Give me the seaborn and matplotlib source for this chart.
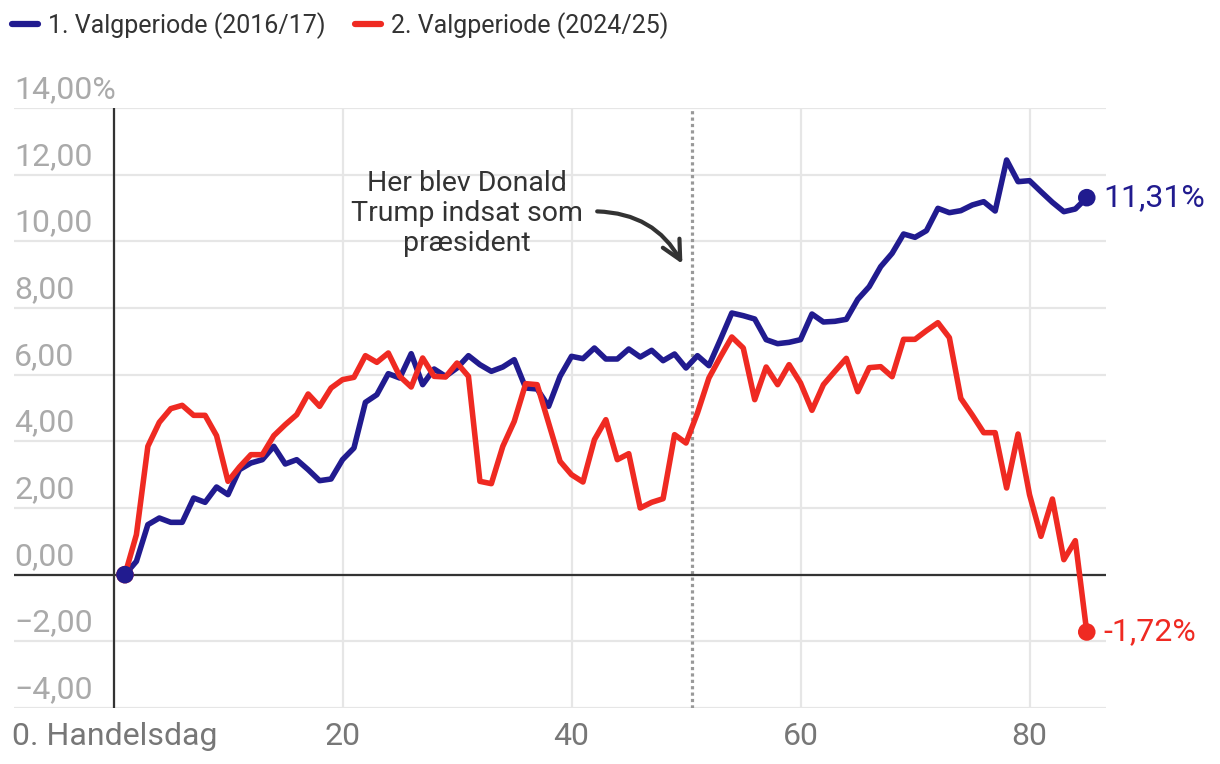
import matplotlib
matplotlib.use("Agg")
import matplotlib.pyplot as plt
import matplotlib.transforms as mtransforms
import pandas as pd
import seaborn as sns

# Handelsdag 1..85 for begge valgperioder (afkast i %)
dage = list(range(1, 86))
periode1 = [
    0, 0.4, 1.5, 1.7, 1.57, 1.57, 2.3, 2.17, 2.63, 2.4,
    3.15, 3.35, 3.45, 3.85, 3.32, 3.45, 3.15, 2.82, 2.87, 3.45,
    3.8, 5.17, 5.4, 6.03, 5.9, 6.63, 5.7, 6.17, 5.95, 6.2,
    6.57, 6.3, 6.1, 6.23, 6.45, 5.6, 5.57, 5.05, 5.95, 6.55,
    6.48, 6.8, 6.47, 6.47, 6.77, 6.53, 6.73, 6.42, 6.62, 6.2,
    6.57, 6.27, 7.05, 7.85, 7.77, 7.67, 7.05, 6.93, 6.97, 7.05,
    7.82, 7.58, 7.6, 7.66, 8.26, 8.64, 9.24, 9.64, 10.22, 10.12,
    10.32, 10.99, 10.86, 10.92, 11.09, 11.19, 10.91, 12.44, 11.79, 11.82,
    11.49, 11.17, 10.89, 10.97, 11.31,
]
periode2 = [
    0, 1.2, 3.85, 4.57, 4.98, 5.08, 4.78, 4.78, 4.17, 2.8,
    3.23, 3.6, 3.6, 4.17, 4.5, 4.8, 5.42, 5.05, 5.6, 5.85,
    5.92, 6.57, 6.37, 6.65, 5.95, 5.63, 6.5, 5.95, 5.93, 6.35,
    5.95, 2.8, 2.73, 3.85, 4.6, 5.73, 5.7, 4.55, 3.4, 3.0,
    2.78, 4.05, 4.65, 3.45, 3.63, 2.0, 2.17, 2.28, 4.2, 3.95,
    4.85, 5.9, 6.53, 7.13, 6.8, 5.25, 6.23, 5.7, 6.3, 5.75,
    4.93, 5.7, 6.1, 6.49, 5.49, 6.21, 6.24, 5.94, 7.06, 7.06,
    7.32, 7.56, 7.11, 5.29, 4.79, 4.26, 4.26, 2.6, 4.22, 2.4,
    1.15, 2.27, 0.45, 1.02, -1.72,
]
navne = ["1. Valgperiode (2016/17)", "2. Valgperiode (2024/25)"]
farver = ["#211b8f", "#ef2a22"]
y_ticks = [-4, -2, 0, 2, 4, 6, 8, 10, 12, 14]
y_labels = ["−4,00", "−2,00", "0,00", "2,00", "4,00", "6,00", "8,00", "10,00", "12,00", "14,00%"]
x_ticks = [20, 40, 60, 80]
indsaettelse = 50.5

sns.set_theme(style="white")
plt.rcParams["font.family"] = ["Roboto", "DejaVu Sans"]

df = pd.DataFrame({
    "dag": dage * 2,
    "afkast": periode1 + periode2,
    "periode": [navne[0]] * len(dage) + [navne[1]] * len(dage),
})

fig = plt.figure(figsize=(12.2, 7.64), dpi=100)
ax = fig.add_axes([14 / 1220, 56 / 764, 1092 / 1220, 600 / 764])

sns.lineplot(data=df, x="dag", y="afkast", hue="periode", palette=farver,
             linewidth=4.0, ax=ax, zorder=4, legend=False)

# start- og slutpunkter
ender = pd.DataFrame({
    "dag": [dage[0], dage[-1], dage[0], dage[-1]],
    "afkast": [periode2[0], periode2[-1], periode1[0], periode1[-1]],
    "periode": [navne[1], navne[1], navne[0], navne[0]],
})
sns.scatterplot(data=ender, x="dag", y="afkast", hue="periode",
                palette={navne[0]: farver[0], navne[1]: farver[1]},
                s=160, edgecolor="none", ax=ax, zorder=5, legend=False)

ax.set_xlim(-8.69, 86.68)
ax.set_ylim(-4, 14)
for s in ax.spines.values():
    s.set_visible(False)

ax.set_yticks(y_ticks)
ax.set_yticklabels([])
ax.set_xticks([0] + x_ticks)
ax.set_xticklabels([""] + [str(t) for t in x_ticks], fontsize=23, color="#777777")
ax.tick_params(length=0)
ax.tick_params(axis="x", pad=10)
ax.grid(True, color="#e6e6e6", linewidth=1.6, zorder=0)
ax.set_xlabel("")
ax.set_ylabel("")

ax.axhline(0, color="#333333", linewidth=1.6, zorder=3)
ax.axvline(0, color="#333333", linewidth=1.6, zorder=3)
ax.axvline(indsaettelse, color="#999999", linewidth=2.3, linestyle=(0, (1, 1)), zorder=2)

# y-akse tekster over gitterlinjerne
trans = mtransforms.blended_transform_factory(ax.transAxes, ax.transData)
for v, lab in zip(y_ticks, y_labels):
    ax.annotate(lab, xy=(0, v), xycoords=trans, xytext=(0, 7), textcoords="offset points",
                ha="left", va="baseline", fontsize=23, color="#aaaaaa")

ax.annotate("0. Handelsdag", xy=(0, 0), xycoords="axes fraction", xytext=(-1.5, -10),
            textcoords="offset points", ha="left", va="top", fontsize=23, color="#777777")

# slutværdier
ax.annotate("11,31%", xy=(dage[-1], periode1[-1]), xytext=(12, 0), textcoords="offset points",
            ha="left", va="center", fontsize=23, color=farver[0], annotation_clip=False)
ax.annotate("-1,72%", xy=(dage[-1], periode2[-1]), xytext=(12, 0), textcoords="offset points",
            ha="left", va="center", fontsize=23, color=farver[1], annotation_clip=False)

# Trump-annotation
ax.text(30.9, 10.84, "Her blev Donald\nTrump indsat som\npræsident", ha="center", va="center",
        multialignment="center", fontsize=20.5, color="#333333", linespacing=1.15, zorder=6)
ax.annotate("", xy=(49.8, 9.25), xytext=(42.0, 10.9),
            arrowprops=dict(arrowstyle="->", color="#333333", lw=3.0, mutation_scale=34,
                            connectionstyle="arc3,rad=-0.3"), zorder=6)

# legende
handles = [plt.Line2D([], [], color=c, linewidth=4.5, solid_capstyle="round") for c in farver]
fig.legend(handles, navne, loc="upper left", bbox_to_anchor=(12 / 1220, 1 - 12 / 764),
           ncol=2, frameon=False, fontsize=18, handlelength=1.05, handletextpad=0.4,
           columnspacing=1.15, borderpad=0, borderaxespad=0, labelcolor="#333333")

fig.savefig("out.png", dpi=100)
